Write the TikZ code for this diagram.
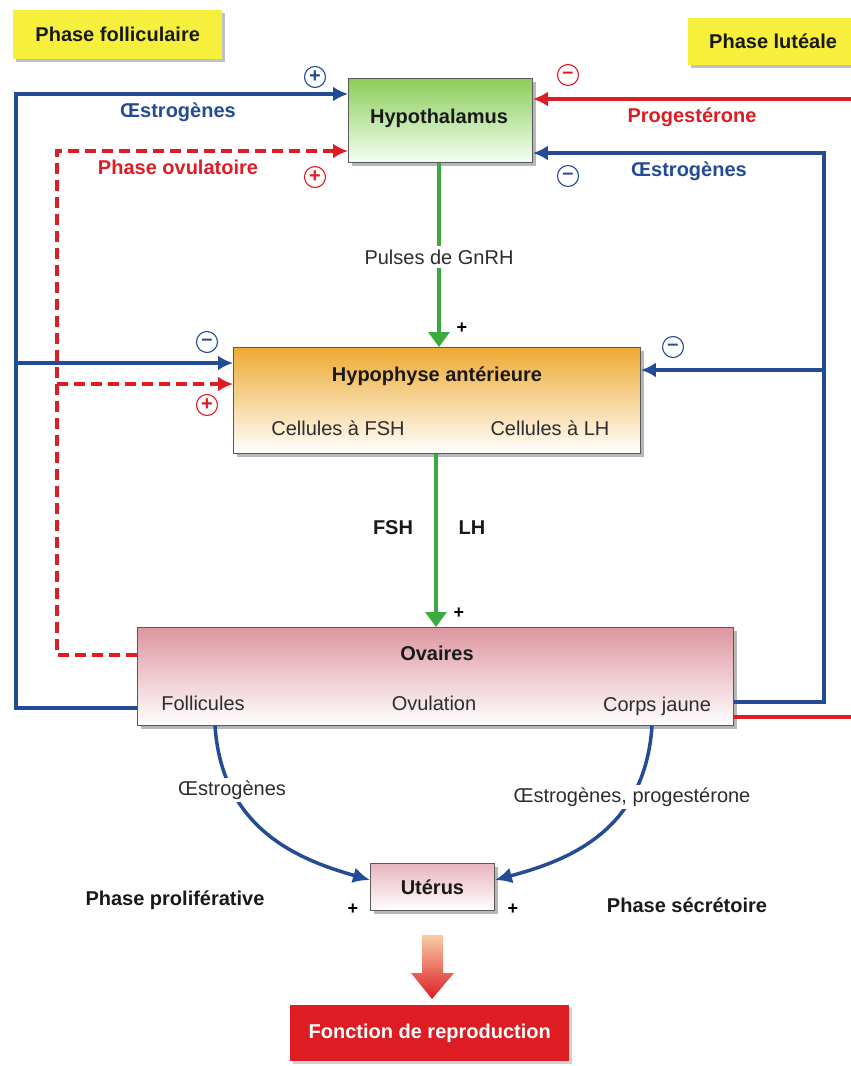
\documentclass[tikz,border=0pt]{standalone}
\usepackage{fontspec}
\setmainfont{Liberation Sans}
\usetikzlibrary{arrows.meta,shadows,calc}
\definecolor{fbblue}{RGB}{35,75,150}
\definecolor{fbred}{RGB}{222,28,36}
\definecolor{fbgreen}{RGB}{60,170,60}
\definecolor{fbyellow}{RGB}{246,240,60}
\definecolor{fbtext}{RGB}{45,45,45}
\definecolor{hypotop}{RGB}{140,205,90}
\definecolor{hyptop}{RGB}{238,170,50}
\definecolor{ovatop}{RGB}{222,150,160}
\definecolor{uttop}{RGB}{232,180,190}
\definecolor{arrtop}{RGB}{248,205,165}
\begin{document}
\begin{tikzpicture}[x=1pt,y=-1pt,
  txt/.style={font=\fontsize{20}{24}\selectfont, text=fbtext, inner sep=1pt},
  btxt/.style={font=\fontsize{20}{24}\selectfont\bfseries, text=black!90, inner sep=1pt},
  box/.style={draw=black!65, line width=0.9pt, anchor=north west, inner sep=0pt,
    drop shadow={shadow xshift=4pt, shadow yshift=-4pt, fill=black!40, opacity=0.7}},
  phasebox/.style={fill=fbyellow, anchor=north west, inner sep=0pt,
    drop shadow={shadow xshift=3pt, shadow yshift=-3pt, fill=black!35, opacity=0.7}},
  bluearr/.style={draw=fbblue, line width=3.5pt, -{Latex[length=15pt,width=15pt]}},
  blueline/.style={draw=fbblue, line width=3.5pt},
  redarr/.style={draw=fbred, line width=3.5pt, -{Latex[length=15pt,width=15pt]}},
  redline/.style={draw=fbred, line width=3.5pt},
  reddash/.style={draw=fbred, line width=3.5pt, dash pattern=on 11pt off 6pt, -{Latex[length=15pt,width=15pt]}},
  greenarr/.style={draw=fbgreen, line width=3.5pt, -{Triangle[length=15pt,width=21pt]}},
  curvarr/.style={draw=fbblue, line width=3.5pt, -{Latex[length=17pt,width=16pt]}},
  sign/.style={circle, draw, line width=1.1pt, minimum size=21pt, inner sep=0pt,
    font=\fontsize{20}{20}\selectfont\bfseries},
  plus/.style={font=\fontsize{18}{18}\selectfont\bfseries, text=black, inner sep=0pt}
]
\useasboundingbox (0,0) rectangle (851,1066);

% phase boxes
\node[phasebox, minimum width=209pt, minimum height=49pt] (pf) at (13,10) {};
\node[btxt] (pft) at (pf.center) {Phase folliculaire};
\node[phasebox, minimum width=170pt, minimum height=47pt] (pl) at (688,18) {};
\node[btxt, anchor=west] (plt) at (708,41) {Phase lutéale};

% main boxes
\node[box, minimum width=184pt, minimum height=84pt, top color=hypotop, bottom color=white!95!green] (hypo) at (348,78) {};
\node[btxt] (hypot) at (439,118) {Hypothalamus};

\node[box, minimum width=407pt, minimum height=106pt, top color=hyptop, bottom color=white] (hyp) at (233,347) {};
\node[btxt] (hypt) at (437,376) {Hypophyse antérieure};
\node[txt] (cfsh) at (338,428) {Cellules à FSH};
\node[txt] (clh) at (550,428) {Cellules à LH};

\node[box, minimum width=596pt, minimum height=98pt, top color=ovatop, bottom color=white] (ova) at (137,627) {};
\node[btxt] (ovat) at (437,653) {Ovaires};
\node[txt] (foll) at (203,703) {Follicules};
\node[txt] (ovul) at (434,703) {Ovulation};
\node[txt] (cj) at (657,706) {Corps jaune};

\node[box, minimum width=124pt, minimum height=47pt, top color=uttop, bottom color=white] (ut) at (370,863) {};
\node[btxt] (utt) at (ut.center) {Utérus};

\node[fill=fbred, anchor=north west, minimum width=279pt, minimum height=56pt, inner sep=0pt,
  drop shadow={shadow xshift=3pt, shadow yshift=-3pt, fill=black!30, opacity=0.6}] (fn) at (290,1005) {};
\node[btxt, text=white] (fnt) at (fn.center) {Fonction de reproduction};

% coordinates at the edges / junctions
\coordinate (jl) at (16,363);
\coordinate (jld) at (57,384);
\coordinate (jr) at (824,370);
\coordinate (redin) at (851,99);
\coordinate (redout) at (851,717);

% left feedback (oestrogenes, blue)
\draw[bluearr] (ova.west |- 0,708) -| (16,94) -- (hypo.west |- 0,94);
\draw[bluearr] (jl) -- (hyp.west |- jl);
% left dashed (phase ovulatoire)
\draw[reddash] (ova.west |- 0,655) -| (57,151) -- (hypo.west |- 0,151);
\draw[reddash] (jld) -- (hyp.west |- jld);
% right feedback
\draw[bluearr] (ova.east |- 0,702) -| (824,153) -- (hypo.east |- 0,153);
\draw[bluearr] (jr) -- (hyp.east |- jr);
\draw[redarr] (redin) -- (hypo.east |- redin);
\draw[redline] (ova.east |- redout) -- (redout);

% green arrows
\draw[greenarr] (hypo.south -| 439,0) -- (hyp.north -| 439,0);
\node[txt, fill=white, inner sep=4pt] (gnrh) at (439,257) {Pulses de GnRH};
\node[plus] (p1) at (462,328) {+};
\draw[greenarr] (hyp.south -| 436,0) -- (ova.north -| 436,0);
\node[btxt] (fsh) at (393,528) {FSH};
\node[btxt] (lh) at (472,528) {LH};
\node[plus] (p2) at (459,613) {+};

% labels
\node[txt, text=fbblue, font=\fontsize{20}{24}\selectfont\bfseries] (oe1) at (178,112) {Œstrogènes};
\node[txt, text=fbred, font=\fontsize{20}{24}\selectfont\bfseries] (povu) at (178,167) {Phase ovulatoire};
\node[txt, text=fbred, font=\fontsize{20}{24}\selectfont\bfseries] (prog) at (692,117) {Progestérone};
\node[txt, text=fbblue, font=\fontsize{20}{24}\selectfont\bfseries] (oe2) at (689,171) {Œstrogènes};

% signs
\node[sign, draw=fbblue, text=fbblue] (s1) at (315,77) {+};
\node[sign, draw=fbred, text=fbred] (s2) at (315,177) {+};
\node[sign, draw=fbred, text=fbred] (s3) at (568,75) {–};
\node[sign, draw=fbblue, text=fbblue] (s4) at (568,176) {–};
\node[sign, draw=fbblue, text=fbblue] (s5) at (207,342) {–};
\node[sign, draw=fbred, text=fbred] (s6) at (207,405) {+};
\node[sign, draw=fbblue, text=fbblue] (s7) at (673,347) {–};

% curved arrows to uterus
\draw[curvarr] (ova.south -| 215,0) .. controls (222,830) and (300,860) .. (ut.west |- 0,880);
\draw[curvarr] (ova.south -| 652,0) .. controls (645,830) and (570,860) .. (ut.east |- 0,880);
\node[txt, fill=white, inner sep=3pt] (oe3) at (232,790) {Œstrogènes};
\node[txt, fill=white, inner sep=3pt] (oe4) at (632,797) {Œstrogènes, progestérone};
\node[plus] (p3) at (353,909) {+};
\node[plus] (p4) at (513,909) {+};
\node[btxt] (pprol) at (175,900) {Phase proliférative};
\node[btxt] (psec) at (687,905) {Phase sécrétoire};

% big arrow to reproduction
\shade[top color=arrtop, bottom color=fbred]
  (422,935) -- (443,935) -- (443,973) -- (454,973) -- (432,999) -- (411,973) -- (422,973) -- cycle;
\end{tikzpicture}
\end{document}
